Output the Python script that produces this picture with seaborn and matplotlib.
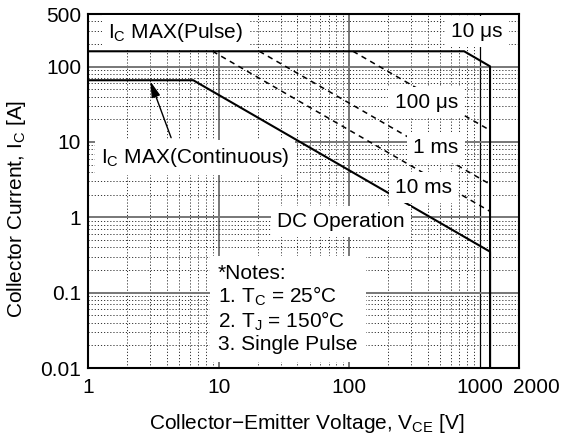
import numpy as np
import pandas as pd
import seaborn as sns
import matplotlib
matplotlib.use("Agg")
import matplotlib.pyplot as plt
from matplotlib.ticker import NullFormatter, LogLocator
from matplotlib.transforms import ScaledTranslation

# ---------------- data ----------------
x_ticks = [1, 10, 100, 1000, 2000]
x_tick_labels = ["1", "10", "100", "1000", "2000"]
y_ticks = [0.01, 0.1, 1, 10, 100, 500]
y_tick_labels = ["0.01", "0.1", "1", "10", "100", "500"]

us10_v = [1, 760, 1200, 1200]
us10_i = [160, 160, 101, 0.01]
us100_v = [107, 1200, 1200]
us100_i = [160, 14.3, 0.01]
ms1_v = [20.5, 1200, 1200]
ms1_i = [160, 2.75, 0.01]
ms10_v = [9.0, 1200, 1200]
ms10_i = [160, 1.2, 0.01]
dc_v = [1, 6.4, 1200, 1200]
dc_i = [66, 66, 0.35, 0.01]

# ---------------- style ----------------
sns.set_theme(style="white")
plt.rcParams["font.family"] = ["Liberation Sans", "DejaVu Sans"]
plt.rcParams["mathtext.fontset"] = "custom"
plt.rcParams["mathtext.rm"] = "Liberation Sans"
plt.rcParams["mathtext.it"] = "Liberation Sans:italic"
FS = 15

fig = plt.figure(figsize=(5.61, 4.37), dpi=100)
ax = fig.add_axes([88 / 561, 1 - 368 / 437, 431 / 561, 354 / 437])
ax.set_xscale("log")
ax.set_yscale("log")
ax.set_xlim(1, 2000)
ax.set_ylim(0.01, 500)

# grid
ax.xaxis.set_minor_locator(LogLocator(base=10, subs=np.arange(2, 10)))
ax.yaxis.set_minor_locator(LogLocator(base=10, subs=np.arange(2, 10)))
ax.xaxis.set_minor_formatter(NullFormatter())
ax.yaxis.set_minor_formatter(NullFormatter())
ax.set_xticks(x_ticks)
ax.set_xticklabels(x_tick_labels)
ax.set_yticks(y_ticks)
ax.set_yticklabels(y_tick_labels)
ax.grid(which="minor", color="#333333", linestyle=(0, (1.2, 2.0)), linewidth=0.7, zorder=0)
ax.grid(which="major", color="#777777", linestyle="-", linewidth=1.4, zorder=0)
for t in ax.xaxis.get_major_ticks():
    if t.get_loc() == 1000:
        t.gridline.set_color("black")
        t.gridline.set_linewidth(0.9)
ax.set_axisbelow(True)

ax.tick_params(which="major", direction="in", length=4, width=1, colors="black",
               labelsize=FS, labelcolor="black")
ax.tick_params(axis="x", which="major", pad=7)
ax.tick_params(axis="y", which="major", pad=5)
ax.tick_params(which="minor", length=0)
for s in ax.spines.values():
    s.set_color("black")
    s.set_linewidth(1.5)

# shift "2000" label right so it does not collide with "1000"
for lbl in ax.get_xticklabels():
    if lbl.get_text() == "2000":
        lbl.set_transform(lbl.get_transform() + ScaledTranslation(17 / 100, 0, fig.dpi_scale_trans))

# ---------------- curves ----------------
solid = dict(color="black", linewidth=1.5, sort=False, estimator=None, ax=ax, zorder=3)
dashed = dict(color="black", linewidth=1.1, sort=False, estimator=None, ax=ax, zorder=3,
              linestyle=(0, (3.5, 3)))
sns.lineplot(x=us10_v, y=us10_i, **solid)
sns.lineplot(x=dc_v, y=dc_i, **solid)
sns.lineplot(x=us100_v, y=us100_i, **dashed)
sns.lineplot(x=ms1_v, y=ms1_i, **dashed)
sns.lineplot(x=ms10_v, y=ms10_i, **dashed)

# ---------------- labels ----------------
box = dict(facecolor="white", edgecolor="none", boxstyle="square,pad=0.3")
tk = dict(fontsize=FS, color="black", zorder=6, bbox=box)
ax.text(1.42, 283, r"I$_\mathrm{C}$ MAX(Pulse)", ha="left", va="center", **tk)
ax.text(957, 292, "10 μs", ha="center", va="center", **tk)
ax.text(389, 33.3, "100 μs", ha="center", va="center", **tk)
ax.text(460, 8.4, "1 ms", ha="center", va="center", **tk)
ax.text(372, 2.47, "10 ms", ha="center", va="center", **tk)
ax.text(86.8, 0.875, "DC Operation", ha="center", va="center", **tk)
ax.text(6.6, 6.19, r"I$_\mathrm{C}$ MAX(Continuous)", ha="center", va="center", **tk)
ax.text(9.9, 0.24, "*Notes:\n1. T$_\\mathrm{C}$ = 25°C\n2. T$_\\mathrm{J}$ = 150°C\n3. Single Pulse",
        ha="left", va="top", linespacing=1.1, fontsize=FS, color="black", zorder=6,
        bbox=dict(facecolor="white", edgecolor="none", boxstyle="square,pad=0.4"))
ax.annotate("", xy=(3.0, 64), xytext=(4.33, 11.4),
            arrowprops=dict(arrowstyle="-|>,head_length=0.8,head_width=0.22",
                            color="black", lw=1.0, shrinkA=0, shrinkB=0), zorder=6)

ax.set_xlabel("Collector\u2212Emitter Voltage, V$_\\mathrm{CE}$ [V]", fontsize=FS, color="black")
ax.set_ylabel(r"Collector Current, I$_\mathrm{C}$ [A]", fontsize=FS, color="black")
ax.xaxis.set_label_coords(0.508, -0.125)
ax.yaxis.set_label_coords(-0.14, 0.449)

fig.savefig("out.png", dpi=100)
